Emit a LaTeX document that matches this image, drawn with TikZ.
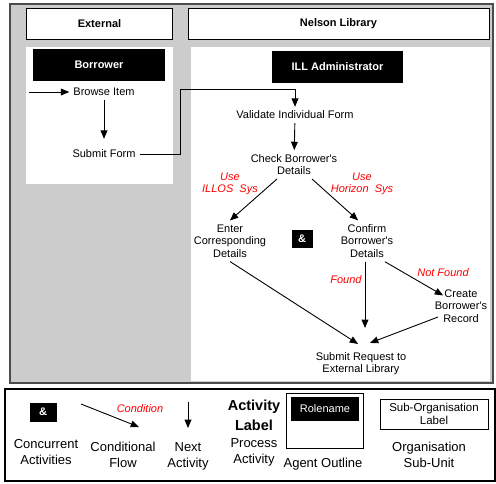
\documentclass[tikz,border=0pt]{standalone}
\usepackage{fontspec}
\setmainfont{Liberation Sans}
\usepackage{tikz}
\usetikzlibrary{arrows}
\tikzset{
  act/.style={align=center, inner sep=4pt, font=\fontsize{11}{12.5}\selectfont},
  cond/.style={align=center, text=red, font=\fontsize{11}{12}\selectfont\itshape},
  role/.style={fill=black, text=white, font=\fontsize{11}{12}\selectfont\bfseries},
  unit/.style={draw=black, fill=white, line width=.8pt, minimum height=31pt, font=\fontsize{11}{12}\selectfont\bfseries},
  legtext/.style={align=center, font=\fontsize{13}{16}\selectfont},
  flow/.style={black, line width=.9pt, ->, >=triangle 45},
}
\newcommand{\apos}{\textquotesingle}

\begin{document}
\begin{tikzpicture}[x=1pt, y=-1pt]
\useasboundingbox (0,0) rectangle (496,483);
\draw[draw=black!70, line width=1.5pt, fill=black!20] (10,4) rectangle (493,383);
\fill[white] (26,47) rectangle (173,184);
\fill[white] (191,47) rectangle (490,381);
\node[unit, minimum width=146pt] (ext) at (99.5,23.5) {External};
\node[unit, minimum width=301pt] (nel) at (338.5,23.5) {Nelson Library};
\node[role, minimum width=132pt, minimum height=32pt] (borrower) at (99,65) {Borrower};
\node[role, minimum width=131pt, minimum height=32pt] (ill) at (337.5,67) {ILL Administrator};

\node[act] (browse) at (104,92) {Browse Item};
\node[act] (submit) at (104,154) {Submit Form};
\node[act] (validate) at (295,115) {Validate Individual Form};
\node[act] (check) at (294,164.5) {Check Borrower\apos s\\Details};
\node[act] (enter) at (230,241) {Enter\\Corresponding\\Details};
\node[act] (confirm) at (367,241) {Confirm\\Borrower\apos s\\Details};
\node[act] (create) at (461,306) {Create\\Borrower\apos s\\Record};
\node[act] (request) at (361,363.5) {Submit Request to\\External Library};
\node[role, minimum width=21pt, minimum height=18pt, inner sep=0pt] (and) at (302,239) {\&};

\node[cond] (illos) at (230,184) {Use\\ILLOS~~Sys};
\node[cond] (horizon) at (362,184) {Use\\Horizon~~Sys};
\node[cond] (found) at (346,280) {Found};
\node[cond] (notfound) at (443,273) {Not Found};

\coordinate (in) at (29,92);
\draw[flow] (in) -- (browse);
\draw[flow, shorten >=7pt] (browse) -- (submit);
\draw[flow] (submit.east) -| (180,89) -| (validate.north);
\draw[flow] (validate) -- (check);
\draw[flow] ([xshift=-17pt]check.south) -- (enter.north);
\draw[flow] ([xshift=18pt]check.south) -- ([xshift=-9pt]confirm.north);
\draw[flow] (enter.south) -- ([xshift=-3pt,yshift=4pt]request.north);
\draw[flow] ([xshift=-2pt]confirm.south) -- ([xshift=4pt,yshift=20pt]request.north);
\draw[flow] ([xshift=18pt]confirm.south) -- ([xshift=-18pt,yshift=-10pt]create.north);
\draw[flow] ([xshift=-23pt,yshift=-11pt]create.center) -- ([xshift=9pt,yshift=5pt]request.north);

\draw[line width=2pt] (5,389) rectangle (495,481);
\node[role, minimum width=27pt, minimum height=19pt, inner sep=0pt] (legand) at (43,412) {\&};
\node[legtext] (concurrent) at (46,452) {Concurrent\\Activities};
\coordinate (c1) at (81,404);
\coordinate (c2) at (139,427);
\draw[flow] (c1) -- (c2);
\node[cond] (condition) at (140,409) {Condition};
\node[legtext] (conditional) at (123,455) {Conditional\\Flow};
\coordinate (n1) at (188,402);
\coordinate (n2) at (188,428);
\draw[flow] (n1) -- (n2);
\node[legtext] (next) at (188,456) {Next\\Activity};
\node[align=center, font=\fontsize{14.5}{20}\selectfont\bfseries] (actlabel) at (254,415) {Activity\\Label};
\node[legtext] (process) at (254,452) {Process\\Activity};
\node[draw, line width=1pt, minimum width=77pt, minimum height=55pt] (agent) at (324.5,420.5) {};
\node[role, font=\fontsize{11}{13}\selectfont, minimum width=68pt, minimum height=24pt] (rolename) at (325,409) {Rolename};
\node[legtext] (outline) at (323,464) {Agent Outline};
\node[draw, line width=.8pt, align=center, inner sep=1pt, minimum width=108pt, minimum height=30pt, font=\fontsize{11.5}{13}\selectfont] (sublabel) at (434,414) {Sub-Organisation\\Label};
\node[legtext] (subunit) at (429,455) {Organisation\\Sub-Unit};
\end{tikzpicture}
\end{document}
